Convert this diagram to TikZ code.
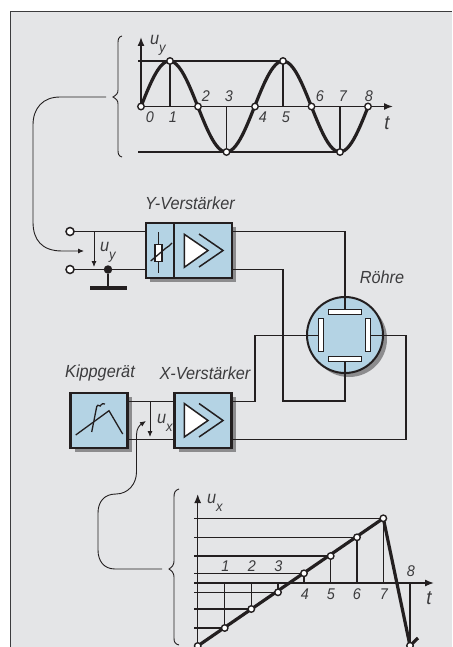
\documentclass[tikz,border=0pt]{standalone}
\usepackage{fontspec}
\setmainfont{Liberation Sans}[FakeStretch=0.93]
\usetikzlibrary{arrows.meta, positioning, calc, shadows}
\definecolor{panelgray}{HTML}{E4E5E7}
\definecolor{boxblue}{HTML}{B4D3E4}
\definecolor{inkblack}{HTML}{231F20}
\definecolor{textgray}{HTML}{3C3C3E}
\definecolor{shadowgray}{HTML}{8C8C8E}
\newcommand{\subtext}[1]{\raisebox{-8pt}{\fontsize{14}{14}\selectfont #1}}

\begin{document}
\begin{tikzpicture}[
	x=1pt, y=-1pt,
	every node/.style={inner sep=0pt, outer sep=0pt},
	wire/.style={line width=1.5pt, color=inkblack},
	thinwire/.style={line width=.9pt, color=inkblack},
	curve/.style={line width=3.2pt, color=inkblack},
	sketch/.style={line width=1.3pt, color=inkblack},
	arrow/.style={-{Latex[length=6pt, width=5pt]}, line width=.9pt, color=inkblack},
	axis/.style={-{Latex[length=9pt, width=7pt]}, line width=1.4pt, color=inkblack},
	bluebox/.style={rectangle, draw=inkblack, line width=2.2pt, fill=boxblue, minimum height=55pt,
		drop shadow={shadow xshift=4pt, shadow yshift=-4pt, fill=shadowgray, opacity=1}},
	plate/.style={rectangle, draw=inkblack, line width=1.3pt, fill=white},
	marker/.style={circle, draw=inkblack, line width=1.4pt, fill=white, minimum size=6.5pt},
	terminal/.style={circle, draw=inkblack, line width=1.5pt, fill=white, minimum size=8pt},
	label/.style={font=\itshape\fontsize{17.5}{17.5}\selectfont, text=textgray},
	digit/.style={font=\itshape\fontsize{15.5}{15.5}\selectfont, text=textgray}
	]
	\useasboundingbox (0,0) rectangle (452,647);
	
	%panel
	\fill[panelgray] (10,12) rectangle (452,647);
	\draw[line width=1pt, color=textgray] (10,647) -- (10,12) -- (452,12);
	
	%upper chart
	\coordinate (ybase) at (137,106.5);
	\coordinate (ytip) at (141,37);
	\coordinate (yend) at (393,106.5);
	\draw[wire] (138,61) -- (283,61);
	\draw[wire] (138,152) -- (340,152);
	\draw[axis] (141,106.5) -- (ytip);
	\draw[axis] (ybase) -- (yend);
	\foreach \i/\xx/\yy in {1/170/61, 3/226.5/152, 5/283/61, 7/340/152}
	\draw[wire] (\xx,106.5) -- (\xx,\yy);
	\draw[curve] plot[domain=0:8, samples=97, smooth] ({141+28.4*\x},{106.5-45.5*sin(90*\x)});
	\foreach \i/\xx/\yy in {0/141/106.5, 1/170/61, 2/198/106.5, 3/226.5/152, 4/255/106.5, 5/283/61, 6/311.5/106.5, 7/340/152, 8/368/106.5}
	\node[marker] (ymark\i) at (\xx,\yy) {};
	\foreach \i/\xx/\yy in {0/150/117, 1/173/117, 2/206/96, 3/229/96, 4/263/117, 5/286/117, 6/320/96, 7/343/96, 8/369/96}
	\node[digit] (ynum\i) at (\xx,\yy) {\i};
	\node[label, font=\itshape\fontsize{20}{20}\selectfont] (ytime) at (387,123) {t};
	\node[label, anchor=base west] (yaxis) at (150,45) {u\subtext{y}};
	
	%brace upper
	\coordinate (ybrace) at (106,97);
	\draw[thinwire] (122,36) .. controls (118,37) and (118,40) .. (118,44) -- (118,90)
		.. controls (118,94) and (116,95) .. (113,97) .. controls (116,99) and (118,100) .. (118,104)
		-- (118,149) .. controls (118,153) and (118,156) .. (122,157);
	\coordinate (yfeed) at (33,125);
	\coordinate (yarrow) at (84,251);
	\draw[arrow] (ybrace) -- (60,97) .. controls (43,97) and (33,108) .. (yfeed) -- (33,222)
		.. controls (33,240) and (42,251) .. (62,251) -- (yarrow);
	
	%input and Y amplifier
	\node[bluebox, minimum width=28pt] (yatt) at (160,250.5) {};
	\node[bluebox, minimum width=58pt, right=0pt of yatt] (yamp) {};
	\node[terminal] (intop) at (70,231.5) {};
	\node[terminal] (inbot) at (70,269.5) {};
	\draw[wire] (intop) -- (intop -| yatt.west);
	\draw[wire] (inbot) -- (inbot -| yatt.west);
	\draw[arrow] (94,231.5) -- (94,267);
	\node[label, anchor=base west] (ulabel) at (100,251) {u\subtext{y}};
	\node[circle, fill=inkblack, minimum size=8.5pt] (gnddot) at (108,269.5) {};
	\coordinate (gnd) at (108,288);
	\draw[wire] (gnddot) -- (gnd);
	\draw[line width=3.2pt, color=inkblack] (90,288) -- (127,288);
	\node[label] (ylabel) at (190,203) {Y-Verstärker};
	
	%resistor symbol
	\draw[sketch] (158.5,232) -- (158.5,273);
	\node[plate, minimum width=7pt, minimum height=17pt] (resistor) at (158.5,252.8) {};
	\draw[sketch] (150.7,261) -- (166,248) .. controls (167,246) and (168,248) .. (169,246) .. controls (170,244) and (171,245) .. (172,243);
	
	%amplifier symbol Y
	\draw[plate, line width=1.5pt] (184.3,234.3) -- (208,250.5) -- (184.3,267.3) -- cycle;
	\draw[sketch, line width=1.5pt] (199,234) -- (223,250.5) -- (199,267);
	
	%tube
	\node[circle, draw=inkblack, line width=2pt, fill=boxblue, minimum size=76pt,
		drop shadow={shadow xshift=4pt, shadow yshift=-4pt, fill=shadowgray, opacity=1}] (tube) at (345,335) {};
	\node[label] (tubelabel) at (382,277) {Röhre};
	\node[plate, minimum width=33pt, minimum height=5pt] (platetop) at (345,312) {};
	\node[plate, minimum width=33pt, minimum height=5pt] (platebot) at (345,359.3) {};
	\node[plate, minimum width=5pt, minimum height=33pt] (plateleft) at (321,335.3) {};
	\node[plate, minimum width=5pt, minimum height=33pt] (plateright) at (368.3,335.3) {};
	
	%lower row
	\node[bluebox, minimum width=57pt] (kipp) at (99,420.5) {};
	\node[bluebox, minimum width=57pt, right=47pt of kipp] (xamp) {};
	\node[label] (kipplabel) at (100,373) {Kippgerät};
	\node[label] (xlabel) at (205,373) {X-Verstärker};
	\coordinate (xtop) at (150,401.3);
	\coordinate (xbot) at (150,439.3);
	\draw[wire] (kipp.east |- xtop) -- (xamp.west |- xtop);
	\draw[wire] (kipp.east |- xbot) -- (xamp.west |- xbot);
	\draw[arrow] (xtop) -- (150,437);
	\node[label, anchor=base west] (uxlabel) at (157,423) {u\subtext{x}};
	
	%wires to tube
	\draw[wire] (yamp.east |- intop) -- (intop -| tube) -- (platetop.north);
	\draw[wire] (yamp.east |- inbot) -- (283,269.5) -- (283,401) -- (345,401) -- (platebot.south);
	\draw[wire] (xamp.east |- xtop) -- (255,401.3) -- (255,335.3) -- (plateleft.west);
	\draw[wire] (xamp.east |- xbot) -- (406,439.3) -- (406,335.3) -- (plateright.east);
	
	%saw symbol
	\draw[sketch] (75.7,435) -- (109,410.7) -- (122.7,434);
	\draw[sketch] (91.7,432) -- (96.7,406.7) .. controls (98,403) and (100,408) .. (101,405) .. controls (102,403) and (103,404) .. (105,404);
	
	%amplifier symbol X
	\draw[plate, line width=1.5pt] (184.3,403.5) -- (208,420.5) -- (184.3,437) -- cycle;
	\draw[sketch, line width=1.5pt] (199,403.5) -- (223,420.5) -- (199,437);
	
	%lower chart
	\foreach \yy/\xx in {518.3/383.3, 537.3/357, 556/330.7, 573.3/304, 592.3/278, 609/251.3, 628/224.7}
	\draw[wire] (194,\yy) -- (\xx,\yy);
	\foreach \xx/\yy in {224.7/628, 251.3/609, 278/592.3, 304/573.3, 330.7/556, 357/537.3, 383.3/518.3, 410/645.7}
	\draw[wire] (\xx,583) -- (\xx,\yy);
	\draw[axis] (197.7,647) -- (197.7,494);
	\draw[axis] (194,583) -- (434,583);
	\coordinate (xstart) at (197.7,646);
	\coordinate (xpeak) at (383.3,518.3);
	\coordinate (xdrop) at (410,645.7);
	\coordinate (xflick) at (418,638);
	\draw[curve] (xstart) -- (xpeak) -- (xdrop) -- (xflick);
	\foreach \i/\xx/\yy in {0/197.7/646, 1/224.7/628, 2/251.3/609, 3/278/592.3, 4/304/573.3, 5/330.7/556, 6/357/537.3, 7/383.3/518.3, 8/410/645.7}
	\node[marker] (xmark\i) at (\xx,\yy) {};
	\foreach \i/\xx/\yy in {1/225.5/566, 2/252/566, 3/278.5/566, 4/305/594, 5/331/594, 6/357/594, 7/384/594, 8/411/571}
	\node[digit] (xnum\i) at (\xx,\yy) {\i};
	\node[label, font=\itshape\fontsize{20}{20}\selectfont] (xtime) at (429,598) {t};
	\node[label, anchor=base west] (xaxis) at (207,503) {u\subtext{x}};
	
	%brace lower
	\coordinate (xbrace) at (162,569);
	\coordinate (xarrow) at (146,421);
	\draw[thinwire] (179,489) .. controls (175,490) and (174,493) .. (174,497) -- (174,561)
		.. controls (174,565) and (172,567) .. (169,569) .. controls (172,571) and (174,573) .. (174,577)
		-- (174,638) .. controls (174,642) and (175,644) .. (179,645);
	\draw[arrow] (xbrace) -- (115,569) .. controls (104,569) and (98,561) .. (98,550) -- (98,513)
		.. controls (98,502) and (104,494) .. (116,494) .. controls (128,494) and (136.5,484) .. (136.5,472)
		-- (136.5,435) .. controls (136.5,428) and (140,425) .. (xarrow);
\end{tikzpicture}
\end{document}
